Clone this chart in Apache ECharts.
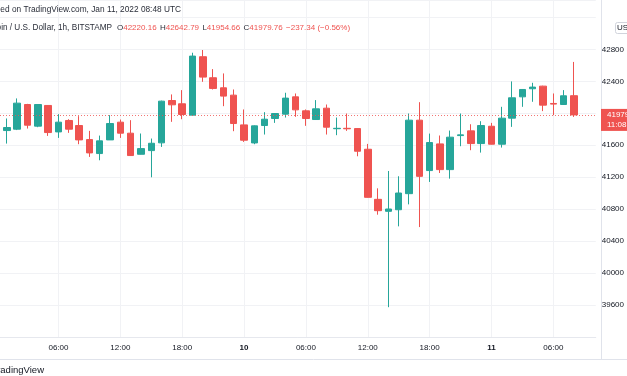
<!DOCTYPE html>
<html>
<head>
<meta charset="utf-8">
<script src="https://cdn.jsdelivr.net/npm/echarts@6/dist/echarts.min.js"></script>
<style>
  html, body { margin: 0; padding: 0; background: #fff; }
  #chart { width: 627px; height: 376px; }
</style>
</head>
<body>
<div id="chart"></div>
<script>
// hourly candles, Jan 9 01:00 -> Jan 11 08:00 (UTC)
var times = [
  'Jan 9 01:00', 'Jan 9 02:00', 'Jan 9 03:00', 'Jan 9 04:00', 'Jan 9 05:00', 'Jan 9 06:00',
  'Jan 9 07:00', 'Jan 9 08:00', 'Jan 9 09:00', 'Jan 9 10:00', 'Jan 9 11:00', 'Jan 9 12:00',
  'Jan 9 13:00', 'Jan 9 14:00', 'Jan 9 15:00', 'Jan 9 16:00', 'Jan 9 17:00', 'Jan 9 18:00',
  'Jan 9 19:00', 'Jan 9 20:00', 'Jan 9 21:00', 'Jan 9 22:00', 'Jan 9 23:00',
  'Jan 10 00:00', 'Jan 10 01:00', 'Jan 10 02:00', 'Jan 10 03:00', 'Jan 10 04:00', 'Jan 10 05:00',
  'Jan 10 06:00', 'Jan 10 07:00', 'Jan 10 08:00', 'Jan 10 09:00', 'Jan 10 10:00', 'Jan 10 11:00',
  'Jan 10 12:00', 'Jan 10 13:00', 'Jan 10 14:00', 'Jan 10 15:00', 'Jan 10 16:00', 'Jan 10 17:00',
  'Jan 10 18:00', 'Jan 10 19:00', 'Jan 10 20:00', 'Jan 10 21:00', 'Jan 10 22:00', 'Jan 10 23:00',
  'Jan 11 00:00', 'Jan 11 01:00', 'Jan 11 02:00', 'Jan 11 03:00', 'Jan 11 04:00', 'Jan 11 05:00',
  'Jan 11 06:00', 'Jan 11 07:00', 'Jan 11 08:00'
];
var openPrices = [
  41784, 41801, 42110, 41839, 42098, 41767, 41910, 41847, 41671, 41496, 41667, 41889,
  41751, 41487, 41533, 41630, 42160, 42119, 41977, 42708, 42445, 42319, 42227,
  41855, 41629, 41847, 41935, 41989, 42206, 42031, 41922, 42064, 41807, 41812, 41809,
  41550, 40923, 40773, 40793, 40994, 41914, 41283, 41617, 41295, 41721, 41780, 41621,
  41838, 41613, 41939, 42206, 42307, 42340, 42123, 42110, 42220.16
];
var closePrices = [
  41822, 42127, 41851, 42110, 41759, 41889, 41801, 41667, 41504, 41655, 41872, 41751,
  41471, 41558, 41625, 42152, 42106, 41985, 42716, 42453, 42311, 42215, 41872,
  41663, 41843, 41926, 41997, 42190, 42043, 41935, 42056, 41826, 41812, 41806, 41525,
  40948, 40781, 40802, 41002, 41914, 41211, 41634, 41295, 41701, 41730, 41621, 41847,
  41613, 41939, 42194, 42298, 42328, 42102, 42115, 42219, 41979.76
];
var lowPrices = [
  41621, 41790, 41809, 41826, 41717, 41692, 41755, 41613, 41454, 41412, 41667, 41692,
  41468, 41485, 41199, 41579, 41893, 41926, 41975, 42394, 42298, 42089, 41776,
  41642, 41613, 41734, 41880, 41947, 41956, 41843, 41920, 41734, 41726, 41780, 41462,
  40945, 40731, 39573, 40585, 40860, 40576, 41141, 41253, 41182, 41588, 41538, 41508,
  41610, 41571, 41830, 42081, 42144, 42027, 41977, 42108, 41954.66
];
var highPrices = [
  41935, 42186, 42118, 42115, 42102, 41989, 41926, 41964, 41780, 41721, 41977, 41922,
  41914, 41747, 41684, 42158, 42236, 42290, 42758, 42792, 42553, 42499, 42298,
  42048, 41848, 42014, 42000, 42257, 42248, 42048, 42165, 42110, 41947, 41997, 41812,
  41617, 41061, 41278, 41212, 41997, 42139, 41746, 41722, 41784, 41997, 41863, 41901,
  41880, 42081, 42399, 42302, 42382, 42345, 42248, 42290, 42642.79
];
var tickIndex = [5, 11, 17, 23, 29, 35, 41, 47, 53];
var tickLabels = ['06:00', '12:00', '18:00', '10', '06:00', '12:00', '18:00', '11', '06:00'];
var priceLabels = [39600, 40000, 40400, 40800, 41200, 41600, 42000, 42400, 42800];
var lastClose = 41979.76;

var UP = '#26a69a';
var DOWN = '#ef5350';
var FONT = "'Liberation Sans', Arial, sans-serif";

var chart = echarts.init(document.getElementById('chart'));

var candles = [];
for (var i = 0; i < times.length; i++) {
  candles.push([i, openPrices[i], closePrices[i], lowPrices[i], highPrices[i]]);
}

var option = {
  animation: false,
  backgroundColor: '#fff',
  textStyle: { fontFamily: FONT },
  grid: { left: 0, right: 26, top: 0, bottom: 39 },
  xAxis: {
    type: 'value',
    min: -0.673,
    max: 57.115,
    axisLine: { show: true, lineStyle: { color: '#e6e8ee' } },
    axisTick: { show: false, customValues: tickIndex },
    splitLine: { show: true, lineStyle: { color: '#f1f2f5' } },
    axisLabel: {
      customValues: tickIndex,
      margin: 7,
      fontSize: 8,
      color: '#131722',
      formatter: function (v) {
        var k = tickIndex.indexOf(Math.round(v));
        var t = k >= 0 ? tickLabels[k] : '';
        return t.length <= 2 ? '{d|' + t + '}' : t;
      },
      rich: { d: { fontSize: 8, fontWeight: 'bold', color: '#131722', fontFamily: FONT } }
    }
  },
  yAxis: {
    type: 'value',
    position: 'right',
    min: 39200,
    max: 43418,
    interval: 400,
    axisLine: { show: false },
    axisTick: { show: false },
    splitLine: { show: true, lineStyle: { color: '#f1f2f5' } },
    axisLabel: {
      margin: 6,
      fontSize: 8,
      color: '#131722',
      showMinLabel: false,
      showMaxLabel: false,
      formatter: function (v) {
        return priceLabels.indexOf(v) >= 0 ? String(v) : '';
      }
    }
  },
  series: [{
    type: 'candlestick',
    data: candles,
    encode: { x: 0, y: [1, 2, 3, 4] },
    barWidth: 7,
    itemStyle: {
      color: UP,
      color0: DOWN,
      borderColor: UP,
      borderColor0: DOWN,
      borderWidth: 1
    },
    markLine: {
      silent: true,
      symbol: ['none', 'none'],
      label: { show: false },
      lineStyle: { color: DOWN, type: [1, 2], width: 1, opacity: 0.8 },
      data: [{ yAxis: lastClose }]
    }
  }],
  graphic: [
    {
      type: 'text', x: 181, y: 10, z: 100,
      style: {
        text: 'Published on TradingView.com, Jan 11, 2022 08:48 UTC',
        align: 'right', verticalAlign: 'middle',
        font: '8.3px ' + FONT, fill: '#2a2e39'
      }
    },
    {
      type: 'text', x: 112, y: 28, z: 100,
      style: {
        text: 'Bitcoin / U.S. Dollar, 1h, BITSTAMP',
        align: 'right', verticalAlign: 'middle',
        font: '8.2px ' + FONT, fill: '#2a2e39'
      }
    },
    {
      type: 'text', x: 117, y: 28, z: 100,
      style: {
        text: '{k|O}{v|42220.16} {k|H}{v|42642.79} {k|L}{v|41954.66} {k|C}{v|41979.76} {v|−237.34 (−0.56%)}',
        verticalAlign: 'middle',
        rich: {
          k: { fontSize: 8, fontFamily: FONT, fill: '#2a2e39' },
          v: { fontSize: 8, fontFamily: FONT, fill: DOWN }
        }
      }
    },
    {
      type: 'rect', z: 100, shape: { x: 615.5, y: 22.5, width: 20, height: 11, r: 2 },
      style: { fill: '#fff', stroke: '#d1d4dc', lineWidth: 1 }
    },
    {
      type: 'text', x: 617, y: 28, z: 101,
      style: { text: 'USD', verticalAlign: 'middle', font: '8px ' + FONT, fill: '#131722' }
    },
    {
      type: 'line', z: 100, shape: { x1: 601.5, y1: 0, x2: 601.5, y2: 359 },
      style: { stroke: '#e0e3eb', lineWidth: 1 }
    },
    {
      type: 'line', z: 100, shape: { x1: 0, y1: 359.5, x2: 627, y2: 359.5 },
      style: { stroke: '#e0e3eb', lineWidth: 1 }
    },
    {
      type: 'text', x: 44, y: 370, z: 100,
      style: {
        text: 'TradingView', align: 'right', verticalAlign: 'middle',
        font: '9.5px ' + FONT, fill: '#131722'
      }
    }
  ]
};

chart.setOption(option);

// last price tag on the price scale, placed at the close value
var py = chart.convertToPixel({ yAxisIndex: 0 }, lastClose);
chart.setOption({
  graphic: option.graphic.concat([
    {
      type: 'rect', z: 200, shape: { x: 601, y: py - 6, width: 30, height: 22 },
      style: { fill: DOWN }
    },
    {
      type: 'text', x: 607, y: py, z: 201,
      style: { text: lastClose.toFixed(2), verticalAlign: 'middle', font: '8px ' + FONT, fill: '#fff' }
    },
    {
      type: 'text', x: 607, y: py + 10, z: 201,
      style: { text: '11:08', verticalAlign: 'middle', font: '8px ' + FONT, fill: '#fff' }
    }
  ])
});
</script>
</body>
</html>
